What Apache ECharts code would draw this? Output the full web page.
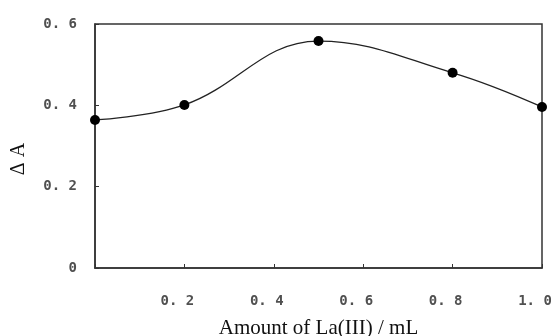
<!DOCTYPE html>
<html>
<head>
<meta charset="utf-8">
<script src="https://cdn.jsdelivr.net/npm/echarts@6/dist/echarts.min.js"></script>
<style>
  html, body { margin: 0; padding: 0; background: #fff; }
  #chart { width: 551px; height: 336px; }
</style>
</head>
<body>
<div id="chart"></div>
<script>
// amount of La(III) added, mL
const amounts = [0, 0.2, 0.5, 0.8, 1.0];
// absorbance difference
const deltaA = [0.364, 0.401, 0.558, 0.48, 0.396];

const xTicks = ['', '0. 2', '0. 4', '0. 6', '0. 8', '1. 0'];
const yTicks = ['0', '0. 2', '0. 4', '0. 6'];

const chart = echarts.init(document.getElementById('chart'), null, { renderer: 'canvas' });

const tickFont = {
  fontFamily: 'DejaVu Sans Mono',
  fontSize: 14,
  fontWeight: 'bold',
  color: '#505050',
};

const option = {
  backgroundColor: '#fff',
  animation: false,
  grid: {
    left: 95,
    right: 9,
    top: 24,
    bottom: 68,
    outerBoundsMode: 'none',
    containLabel: false,
    show: true,
    borderColor: '#333',
    borderWidth: 1.5,
  },
  xAxis: {
    type: 'value',
    min: 0,
    max: 1,
    interval: 0.2,
    name: 'Amount of La(III) / mL',
    nameLocation: 'middle',
    nameGap: 50,
    nameTextStyle: {
      fontFamily: 'Liberation Serif',
      fontSize: 21,
      color: '#111',
    },
    axisLine: { lineStyle: { color: '#333', width: 1.5 } },
    axisTick: { inside: true, length: 4, lineStyle: { color: '#333' } },
    splitLine: { show: false },
    axisLabel: {
      ...tickFont,
      margin: 26,
      padding: [0, 14, 0, 0],
      formatter: (v) => xTicks[Math.round(v / 0.2)],
    },
  },
  yAxis: {
    type: 'value',
    min: 0,
    max: 0.6,
    interval: 0.2,
    name: 'Δ A',
    nameLocation: 'middle',
    nameGap: 66,
    nameTextStyle: {
      fontFamily: 'Liberation Serif',
      fontSize: 20,
      color: '#111',
      padding: [0, 26, 0, 0],
    },
    axisLine: { lineStyle: { color: '#333', width: 1.5 } },
    axisTick: { inside: true, length: 4, lineStyle: { color: '#333' } },
    splitLine: { show: false },
    axisLabel: {
      ...tickFont,
      margin: 18,
      formatter: (v) => yTicks[Math.round(v / 0.2)],
    },
  },
  series: [
    {
      type: 'line',
      data: amounts.map((x, i) => [x, deltaA[i]]),
      smooth: 0.4,
      clip: false,
      symbol: 'circle',
      symbolSize: 10,
      itemStyle: { color: '#000' },
      lineStyle: { color: '#222', width: 1.3 },
    },
  ],
};

chart.setOption(option);
</script>
</body>
</html>
